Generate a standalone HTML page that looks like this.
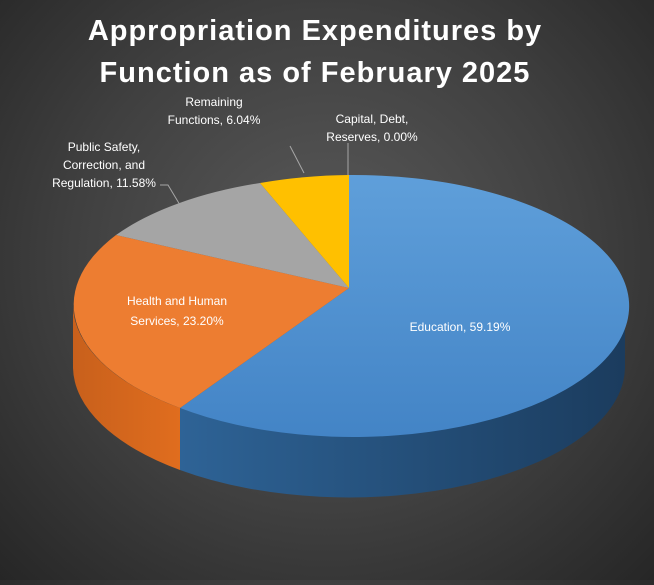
<!DOCTYPE html>
<html><head><style>
html,body{margin:0;padding:0}
body{width:654px;height:580px;overflow:hidden;background:radial-gradient(ellipse at 50% 45%,#5a5a5a 0%,#404040 55%,#262626 100%);font-family:"Liberation Sans",sans-serif}
</style></head><body>
<svg width="654" height="580" xmlns="http://www.w3.org/2000/svg">
<defs>
<linearGradient id="bs" x1="0" x2="1" y1="0" y2="0"><stop offset="0" stop-color="#2e6396"/><stop offset="1" stop-color="#1b3c5e"/></linearGradient>
<linearGradient id="os" x1="0" x2="1"><stop offset="0" stop-color="#c8601c"/><stop offset="1" stop-color="#e06d1e"/></linearGradient>
<linearGradient id="bt" x1="0" y1="0" x2="0" y2="1"><stop offset="0" stop-color="#5f9fda"/><stop offset="1" stop-color="#4384c6"/></linearGradient>
</defs>
<text x="315" y="40" fill="#fff" font-size="29" font-weight="bold" text-anchor="middle" letter-spacing="1">Appropriation Expenditures by</text>
<text x="315" y="82" fill="#fff" font-size="29" font-weight="bold" text-anchor="middle" letter-spacing="1">Function as of February 2025</text>
<path d="M73,306 A276,131 0 0 0 180,408 L180,470 A276,131 0 0 1 73,368 Z" fill="url(#os)"/>
<path d="M180,408 A276,131 0 0 0 625,306 L625,368 A276,131 0 0 1 180,470 Z" fill="url(#bs)"/>
<path d="M349,288 L349,175 A276,131 0 1 1 180,408 Z" fill="url(#bt)"/>
<path d="M349,288 L180,408 A276,131 0 0 1 116,235 Z" fill="#ed7d31"/>
<path d="M349,288 L116,235 A276,131 0 0 1 260,183 Z" fill="#a5a5a5"/>
<path d="M349,288 L260,183 A276,131 0 0 1 349,175 Z" fill="#ffc000"/>
<g stroke="#a6a6a6" stroke-width="1" fill="none">
<polyline points="160,185 168,185 180,205"/>
<polyline points="290,146 304,173"/>
<polyline points="348,143 348,175"/>
</g>
<g fill="#fff" font-size="12" text-anchor="middle">
<text x="460" y="331">Education, 59.19%</text>
<text x="177" y="305">Health and Human</text>
<text x="177" y="325">Services, 23.20%</text>
<text x="104" y="151">Public Safety,</text>
<text x="104" y="169">Correction, and</text>
<text x="104" y="187">Regulation, 11.58%</text>
<text x="214" y="106">Remaining</text>
<text x="214" y="124">Functions, 6.04%</text>
<text x="372" y="123">Capital, Debt,</text>
<text x="372" y="141">Reserves, 0.00%</text>
</g>
</svg>
</body></html>
